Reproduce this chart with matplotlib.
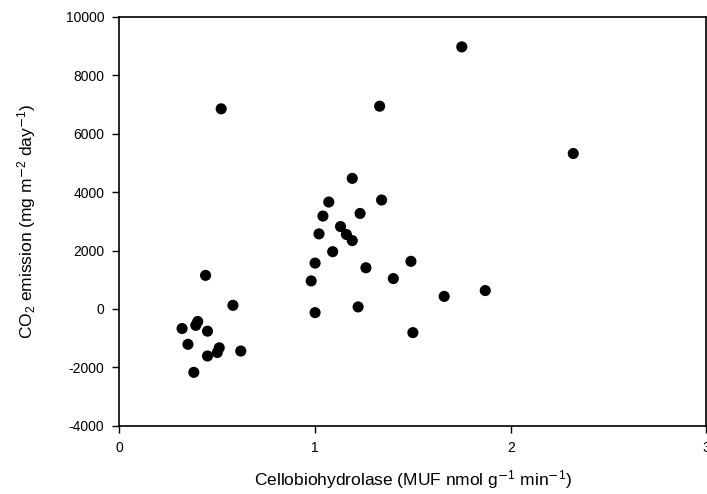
import numpy as np
import matplotlib
matplotlib.use("Agg")
import matplotlib.pyplot as plt

plt.rcParams['font.family'] = ['Liberation Sans', 'DejaVu Sans']
plt.rcParams['mathtext.default'] = 'regular'
plt.rcParams['axes.unicode_minus'] = False

# cellobiohydrolase activity (MUF nmol g-1 min-1)
cbh = [1.75, 0.52, 1.33, 2.32, 1.19, 1.07, 1.34, 1.04, 1.23, 1.02,
       1.13, 1.16, 1.19, 1.09, 1.00, 0.98, 1.26, 1.49, 1.40, 1.66,
       1.87, 1.00, 1.22, 1.50, 0.44, 0.58, 0.32, 0.40, 0.39, 0.45,
       0.35, 0.45, 0.51, 0.50, 0.62, 0.38]
# CO2 emission (mg m-2 day-1)
co2 = [8970, 6850, 6940, 5320, 4470, 3660, 3730, 3180, 3270, 2570,
       2820, 2550, 2340, 1960, 1570, 960, 1410, 1630, 1040, 430,
       630, -125, 70, -810, 1150, 125, -670, -430, -560, -760,
       -1210, -1610, -1330, -1490, -1440, -2170]

x_ticks = [0, 1, 2, 3]
y_ticks = [-4000, -2000, 0, 2000, 4000, 6000, 8000, 10000]

fig = plt.figure(figsize=(7.07, 4.94), dpi=100)
ax = fig.add_axes([0.169, 0.138, 0.830, 0.828])

ax.scatter(cbh, co2, s=64, color='black', edgecolors='none', zorder=3)

ax.set_xlim(0, 3)
ax.set_ylim(-4000, 10000)
ax.set_xticks(x_ticks)
ax.set_yticks(y_ticks)
ax.tick_params(direction='out', length=5, width=1, labelsize=10, pad=6)
for s in ax.spines.values():
    s.set_linewidth(1.2)

ax.set_xlabel('Cellobiohydrolase (MUF nmol g$^{\\mathrm{-}1}$ min$^{\\mathrm{-}1}$)',
              fontsize=12.5, labelpad=9)
ax.set_ylabel('CO$_2$ emission (mg m$^{\\mathrm{-}2}$ day$^{\\mathrm{-}1}$)',
              fontsize=12.5, labelpad=20)

fig.savefig('out.png', dpi=100)
